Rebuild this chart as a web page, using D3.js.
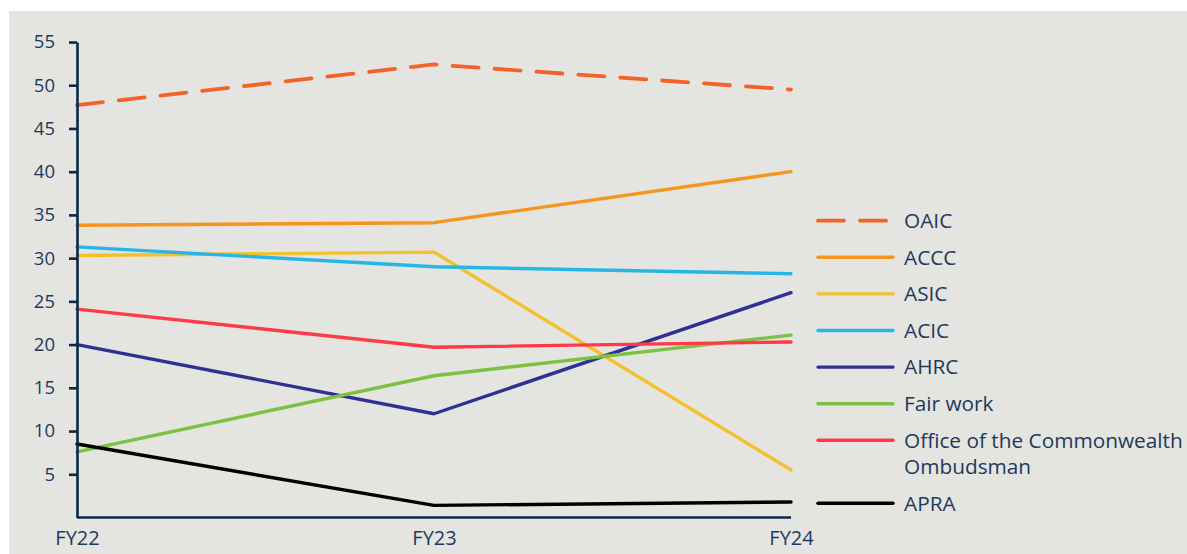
<!DOCTYPE html>
<html>
<head>
<meta charset="utf-8">
<script src="https://cdn.jsdelivr.net/npm/d3@7"></script>
<style>
  html, body { margin: 0; padding: 0; background: #ffffff; }
  svg { display: block; }
  text { font-family: "Open Sans", "Noto Sans", sans-serif; fill: #1d3a5c; }
</style>
</head>
<body>
<svg id="chart" width="1187" height="554"></svg>
<script>
const categories = ["FY22", "FY23", "FY24"];
const seriesNames = ["OAIC", "ACCC", "ASIC", "ACIC", "AHRC", "Fair work", "Office of the Commonwealth Ombudsman", "APRA"];
const legendLabels = [["OAIC"], ["ACCC"], ["ASIC"], ["ACIC"], ["AHRC"], ["Fair work"], ["Office of the Commonwealth", "Ombudsman"], ["APRA"]];
const oaic      = [47.7, 52.4, 49.5];
const accc      = [33.8, 34.1, 40.0];
const asic      = [30.3, 30.7, 5.5];
const acic      = [31.3, 29.0, 28.2];
const ahrc      = [20.0, 12.0, 26.0];
const fairWork  = [7.6, 16.4, 21.1];
const ombudsman = [24.1, 19.7, 20.3];
const apra      = [8.5, 1.4, 1.8];
const seriesValues = [oaic, accc, asic, acic, ahrc, fairWork, ombudsman, apra];
const seriesColors = ["#f4622a", "#f7941d", "#f4c12c", "#27b4e6", "#2e3192", "#7cc242", "#ff3a48", "#000000"];
const seriesDashed = [true, false, false, false, false, false, false, false];
const yTicks = [5, 10, 15, 20, 25, 30, 35, 40, 45, 50, 55];

const svg = d3.select("#chart");
const W = 1187, H = 554;

// background panel
svg.append("rect").attr("x", 9).attr("y", 11).attr("width", W - 9).attr("height", H - 11).attr("fill", "#e4e4e0");

const x = d3.scalePoint().domain(categories).range([77, 791]);
const y = d3.scaleLinear().domain([0, 55]).range([517.5, 42]);
const axisColor = "#0c2748";

// lines
const line = d3.line().x((d, i) => x(categories[i])).y(d => y(d));
const g = svg.append("g");
seriesValues.forEach((vals, k) => {
  g.append("path")
    .datum(vals)
    .attr("d", line)
    .attr("fill", "none")
    .attr("stroke", seriesColors[k])
    .attr("stroke-width", seriesDashed[k] ? 3.8 : 3.4)
    .attr("stroke-linejoin", "round")
    .attr("stroke-linecap", "round")
    .attr("stroke-dasharray", seriesDashed[k] ? "26,16" : null);
});

// y axis
const yAxis = svg.append("g").attr("transform", "translate(77,0)")
  .call(d3.axisLeft(y).tickValues(yTicks).tickSize(8).tickSizeOuter(0).tickPadding(14));
yAxis.select(".domain").attr("stroke", axisColor).attr("stroke-width", 2.6);
yAxis.selectAll(".tick line").attr("stroke", axisColor).attr("stroke-width", 2.6);
yAxis.selectAll(".tick text").attr("font-size", 18.5).style("font-family", "'Open Sans', sans-serif").attr("fill", "#1d3a5c");

// x axis
const xAxis = svg.append("g").attr("transform", "translate(0,517.5)")
  .call(d3.axisBottom(x).tickSize(0).tickSizeOuter(0).tickPadding(13));
xAxis.select(".domain").attr("stroke", axisColor).attr("stroke-width", 2.6).attr("d", `M${x("FY22")},0H${x("FY24")}`);
xAxis.selectAll(".tick text").attr("font-size", 20).style("font-family", "'Open Sans', sans-serif").attr("fill", "#1d3a5c");

// legend
const lg = svg.append("g");
let ly = 220.7;
legendLabels.forEach((lines, k) => {
  lg.append("line")
    .attr("x1", 818).attr("x2", 893).attr("y1", ly).attr("y2", ly)
    .attr("stroke", seriesColors[k]).attr("stroke-width", seriesDashed[k] ? 3.8 : 3.4)
    .attr("stroke-linecap", "round")
    .attr("stroke-dasharray", seriesDashed[k] ? "26,16" : null);
  const t = lg.append("text").attr("x", 904).attr("y", ly).attr("font-size", 20.8);
  lines.forEach((s, j) => {
    t.append("tspan").attr("x", 904).attr("dy", j === 0 ? "0.35em" : 26).text(s);
  });
  ly += 36.6 + (lines.length - 1) * 26.4;
});
</script>
</body>
</html>
